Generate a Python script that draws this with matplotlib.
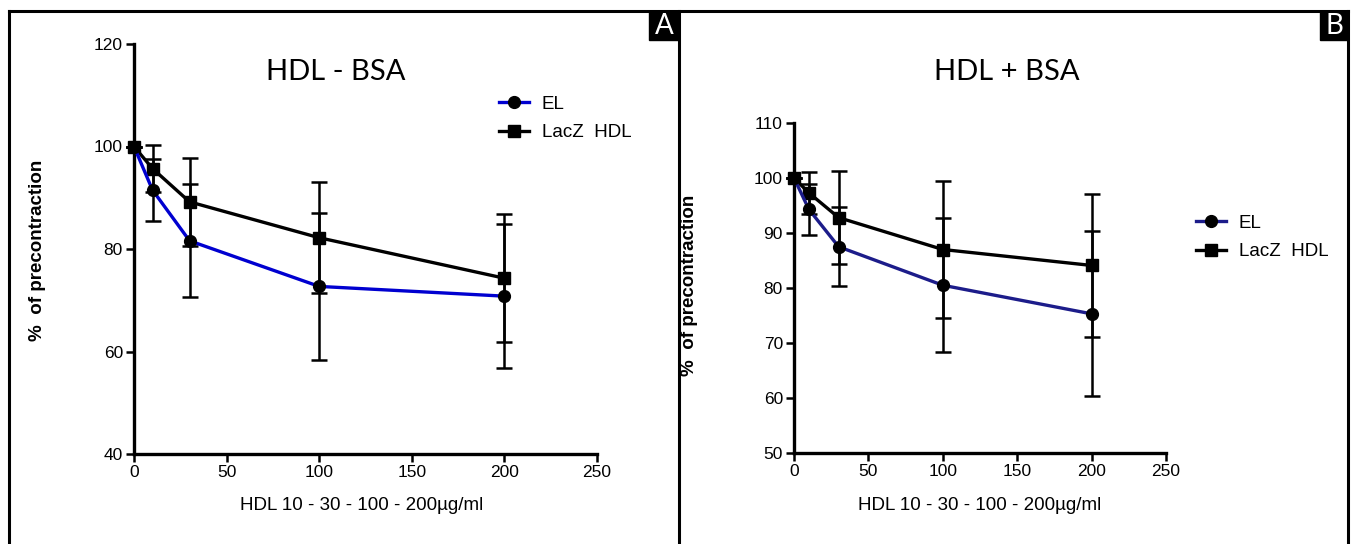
import matplotlib.pyplot as plt
from matplotlib.lines import Line2D
from matplotlib.patches import Rectangle
import numpy as np

# doses (ug/ml)
dose = [0, 10, 30, 100, 200]

# panel A: HDL - BSA
el_a = [100, 91.5, 81.6, 72.7, 70.8]
el_a_err = [0, 6.0, 11.0, 14.4, 14.0]
lacz_a = [100, 95.7, 89.2, 82.2, 74.3]
lacz_a_err = [0, 4.6, 8.6, 10.8, 12.5]

# panel B: HDL + BSA
el_b = [100, 94.3, 87.5, 80.5, 75.3]
el_b_err = [0, 4.6, 7.2, 12.2, 15.0]
lacz_b = [100, 97.3, 92.8, 87.0, 84.1]
lacz_b_err = [0, 3.8, 8.5, 12.4, 13.0]

W, H = 1351, 544
fig = plt.figure(figsize=(W / 100, H / 100), dpi=100)
plt.rcParams['font.family'] = ['Liberation Sans', 'DejaVu Sans']


def px_axes(x0, x1, y0, y1):
    # axes box from pixel coords (y0 = top, y1 = bottom)
    return fig.add_axes([x0 / W, 1 - y1 / H, (x1 - x0) / W, (y1 - y0) / H])


def draw_panel(ax, el, el_err, lacz, lacz_err, el_color, ylim, yticks):
    ax.errorbar(dose, lacz, yerr=lacz_err, color='black', lw=2.4, marker='s', ms=8.5,
                ecolor='black', elinewidth=1.8, capsize=6, capthick=1.8,
                zorder=3, clip_on=False)
    ax.errorbar(dose, el, yerr=el_err, color=el_color, lw=2.4, marker='o', ms=8.5,
                mfc='black', mec='black',
                ecolor='black', elinewidth=1.8, capsize=6, capthick=1.8,
                zorder=4, clip_on=False)
    ax.set_xlim(0, 250)
    ax.set_ylim(*ylim)
    ax.set_xticks([0, 50, 100, 150, 200, 250])
    ax.set_yticks(yticks)
    for s in ['top', 'right']:
        ax.spines[s].set_visible(False)
    for s in ['left', 'bottom']:
        ax.spines[s].set_linewidth(2.4)
    ax.tick_params(width=1.8, length=6, labelsize=12.5, pad=2)
    ax.set_facecolor('none')
    return [Line2D([], [], color=el_color, lw=2.4, marker='o', ms=8.5, mfc='black', mec='black'),
            Line2D([], [], color='black', lw=2.4, marker='s', ms=8.5)]


ax_a = px_axes(134, 597, 44, 454)
h_a = draw_panel(ax_a, el_a, el_a_err, lacz_a, lacz_a_err, '#0000d0', (40, 120),
                 [40, 60, 80, 100, 120])
ax_b = px_axes(794, 1166, 123, 453)
h_b = draw_panel(ax_b, el_b, el_b_err, lacz_b, lacz_b_err, '#1c1c8a', (50, 110),
                 [50, 60, 70, 80, 90, 100, 110])

for h, lx, ly in [(h_a, 491 / W, 1 - 88 / H), (h_b, 1188 / W, 1 - 207 / H)]:
    fig.legend(h, ['EL', 'LacZ  HDL'], loc='upper left', bbox_to_anchor=(lx, ly),
               frameon=False, fontsize=13.5, handlelength=1.6,
               handletextpad=0.7, labelspacing=0.62, borderaxespad=0)

# titles
fig.text(336 / W, 1 - 72 / H, 'HDL - BSA', ha='center', va='center',
         fontsize=21, family=['Lato', 'DejaVu Sans'])
fig.text(1007 / W, 1 - 72 / H, 'HDL + BSA', ha='center', va='center',
         fontsize=21, family=['Lato', 'DejaVu Sans'])

# axis labels
fig.text(38 / W, 1 - 250 / H, '%  of precontraction', rotation=90, ha='center',
         va='center', fontsize=13.5, fontweight='bold')
fig.text(690 / W, 1 - 285 / H, '%  of precontraction', rotation=90, ha='center',
         va='center', fontsize=13.5, fontweight='bold')
fig.text(362 / W, 1 - 505 / H, 'HDL 10 - 30 - 100 - 200µg/ml', ha='center',
         va='center', fontsize=13.5)
fig.text(980 / W, 1 - 505 / H, 'HDL 10 - 30 - 100 - 200µg/ml', ha='center',
         va='center', fontsize=13.5)

# panel frames
lw = 2.2
fig.add_artist(Line2D([9 / W, 9 / W], [0, 1 - 11 / H], color='black', lw=lw))
fig.add_artist(Line2D([9 / W, 1348 / W], [1 - 11 / H, 1 - 11 / H], color='black', lw=lw))
fig.add_artist(Line2D([679 / W, 679 / W], [0, 1 - 11 / H], color='black', lw=lw))
fig.add_artist(Line2D([1348 / W, 1348 / W], [0, 1 - 11 / H], color='black', lw=lw))

# panel letters
for x0, x1, letter in [(649, 679, 'A'), (1320, 1348, 'B')]:
    fig.add_artist(Rectangle((x0 / W, 1 - 40 / H), (x1 - x0) / W, 29 / H,
                             transform=fig.transFigure, color='black'))
    fig.text((x0 + x1) / 2 / W, 1 - 26 / H, letter, color='white', ha='center',
             va='center', fontsize=20, family=['Lato', 'DejaVu Sans'])

fig.savefig('out.png', dpi=100)
